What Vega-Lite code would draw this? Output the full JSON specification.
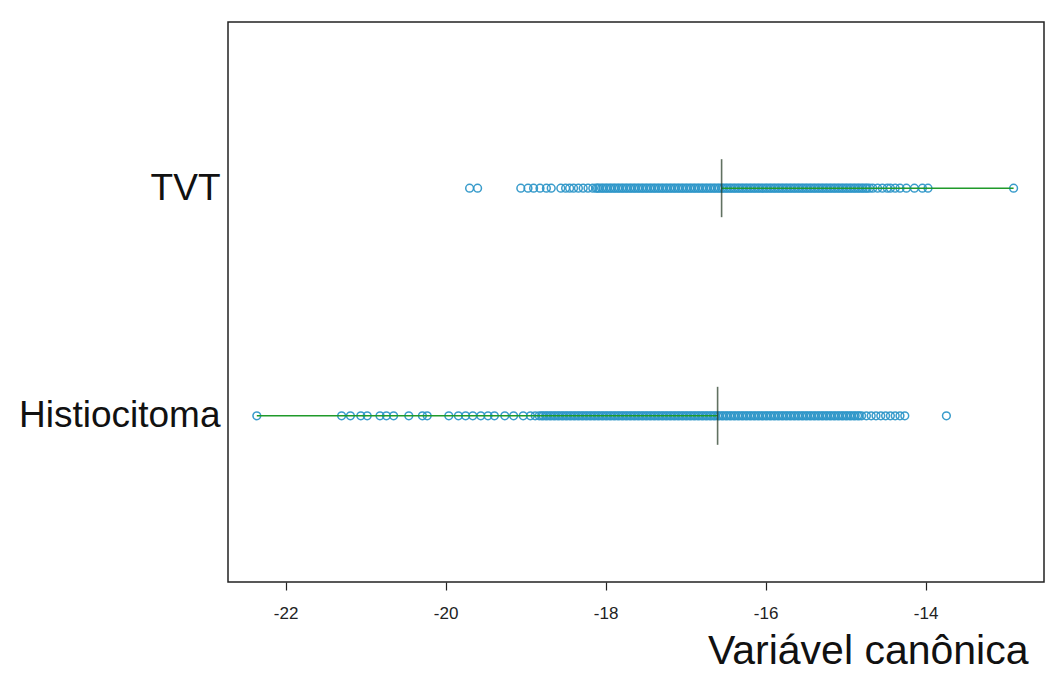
{
  "$schema": "https://vega.github.io/schema/vega-lite/v6.json",
  "width": 816,
  "height": 560,
  "autosize": {"type": "none"},
  "padding": {"left": 228, "top": 22, "right": 10, "bottom": 92},
  "background": "white",
  "config": {
    "view": {"stroke": "#222222", "strokeWidth": 1.5},
    "font": "Liberation Sans"
  },
  "datasets": {
    "rng": [
      {"g": "TVT", "lo": -16.55, "hi": -12.9, "mean": -16.55},
      {"g": "Histiocitoma", "lo": -22.36, "hi": -16.6, "mean": -16.6}
    ],
    "pts": [
      {"g":"TVT","v":-19.70},{"g":"TVT","v":-19.60},{"g":"TVT","v":-19.06},{"g":"TVT","v":-18.97},{"g":"TVT","v":-18.90},{"g":"TVT","v":-18.82},{"g":"TVT","v":-18.74},{"g":"TVT","v":-18.68},{"g":"TVT","v":-18.56},{"g":"TVT","v":-18.50},{"g":"TVT","v":-18.45},{"g":"TVT","v":-18.40},{"g":"TVT","v":-18.34},{"g":"TVT","v":-18.28},{"g":"TVT","v":-18.22},{"g":"TVT","v":-18.16},{"g":"TVT","v":-18.12},
      {"g":"TVT","v":-18.10},{"g":"TVT","v":-18.08},{"g":"TVT","v":-18.05},{"g":"TVT","v":-18.03},{"g":"TVT","v":-18.00},{"g":"TVT","v":-17.98},{"g":"TVT","v":-17.95},{"g":"TVT","v":-17.93},{"g":"TVT","v":-17.90},{"g":"TVT","v":-17.88},{"g":"TVT","v":-17.85},{"g":"TVT","v":-17.83},{"g":"TVT","v":-17.80},{"g":"TVT","v":-17.78},{"g":"TVT","v":-17.75},{"g":"TVT","v":-17.73},{"g":"TVT","v":-17.70},{"g":"TVT","v":-17.68},{"g":"TVT","v":-17.65},{"g":"TVT","v":-17.63},{"g":"TVT","v":-17.60},{"g":"TVT","v":-17.58},{"g":"TVT","v":-17.55},{"g":"TVT","v":-17.53},{"g":"TVT","v":-17.50},{"g":"TVT","v":-17.48},{"g":"TVT","v":-17.45},{"g":"TVT","v":-17.43},{"g":"TVT","v":-17.40},{"g":"TVT","v":-17.38},{"g":"TVT","v":-17.35},{"g":"TVT","v":-17.33},{"g":"TVT","v":-17.30},{"g":"TVT","v":-17.28},{"g":"TVT","v":-17.25},{"g":"TVT","v":-17.23},{"g":"TVT","v":-17.20},{"g":"TVT","v":-17.18},{"g":"TVT","v":-17.15},{"g":"TVT","v":-17.13},{"g":"TVT","v":-17.10},{"g":"TVT","v":-17.08},{"g":"TVT","v":-17.05},{"g":"TVT","v":-17.03},{"g":"TVT","v":-17.00},{"g":"TVT","v":-16.98},{"g":"TVT","v":-16.95},{"g":"TVT","v":-16.93},{"g":"TVT","v":-16.90},{"g":"TVT","v":-16.88},{"g":"TVT","v":-16.85},{"g":"TVT","v":-16.83},{"g":"TVT","v":-16.80},{"g":"TVT","v":-16.78},{"g":"TVT","v":-16.75},{"g":"TVT","v":-16.73},{"g":"TVT","v":-16.70},{"g":"TVT","v":-16.68},{"g":"TVT","v":-16.65},{"g":"TVT","v":-16.63},{"g":"TVT","v":-16.60},{"g":"TVT","v":-16.58},{"g":"TVT","v":-16.55},{"g":"TVT","v":-16.53},{"g":"TVT","v":-16.50},{"g":"TVT","v":-16.48},{"g":"TVT","v":-16.45},{"g":"TVT","v":-16.43},{"g":"TVT","v":-16.40},{"g":"TVT","v":-16.38},{"g":"TVT","v":-16.35},{"g":"TVT","v":-16.33},{"g":"TVT","v":-16.30},{"g":"TVT","v":-16.28},{"g":"TVT","v":-16.25},{"g":"TVT","v":-16.23},{"g":"TVT","v":-16.20},{"g":"TVT","v":-16.18},{"g":"TVT","v":-16.15},{"g":"TVT","v":-16.13},{"g":"TVT","v":-16.10},{"g":"TVT","v":-16.08},{"g":"TVT","v":-16.05},{"g":"TVT","v":-16.03},{"g":"TVT","v":-16.00},{"g":"TVT","v":-15.98},{"g":"TVT","v":-15.95},{"g":"TVT","v":-15.93},{"g":"TVT","v":-15.90},{"g":"TVT","v":-15.88},{"g":"TVT","v":-15.85},{"g":"TVT","v":-15.83},{"g":"TVT","v":-15.80},{"g":"TVT","v":-15.78},{"g":"TVT","v":-15.75},{"g":"TVT","v":-15.73},{"g":"TVT","v":-15.70},{"g":"TVT","v":-15.68},{"g":"TVT","v":-15.65},{"g":"TVT","v":-15.63},{"g":"TVT","v":-15.60},{"g":"TVT","v":-15.58},{"g":"TVT","v":-15.55},{"g":"TVT","v":-15.53},{"g":"TVT","v":-15.50},{"g":"TVT","v":-15.48},{"g":"TVT","v":-15.45},{"g":"TVT","v":-15.43},{"g":"TVT","v":-15.40},{"g":"TVT","v":-15.38},{"g":"TVT","v":-15.35},{"g":"TVT","v":-15.33},{"g":"TVT","v":-15.30},{"g":"TVT","v":-15.28},{"g":"TVT","v":-15.25},{"g":"TVT","v":-15.23},{"g":"TVT","v":-15.20},{"g":"TVT","v":-15.18},{"g":"TVT","v":-15.15},{"g":"TVT","v":-15.13},{"g":"TVT","v":-15.10},{"g":"TVT","v":-15.08},{"g":"TVT","v":-15.05},{"g":"TVT","v":-15.03},{"g":"TVT","v":-15.00},{"g":"TVT","v":-14.98},{"g":"TVT","v":-14.95},{"g":"TVT","v":-14.93},{"g":"TVT","v":-14.90},{"g":"TVT","v":-14.88},{"g":"TVT","v":-14.85},{"g":"TVT","v":-14.83},{"g":"TVT","v":-14.80},{"g":"TVT","v":-14.78},{"g":"TVT","v":-14.75},{"g":"TVT","v":-14.73},{"g":"TVT","v":-14.70},
      {"g":"TVT","v":-14.66},{"g":"TVT","v":-14.60},{"g":"TVT","v":-14.54},{"g":"TVT","v":-14.48},{"g":"TVT","v":-14.44},{"g":"TVT","v":-14.38},{"g":"TVT","v":-14.32},{"g":"TVT","v":-14.24},{"g":"TVT","v":-14.14},{"g":"TVT","v":-14.04},{"g":"TVT","v":-13.97},{"g":"TVT","v":-12.90},
      {"g":"Histiocitoma","v":-22.36},{"g":"Histiocitoma","v":-21.30},{"g":"Histiocitoma","v":-21.19},{"g":"Histiocitoma","v":-21.06},{"g":"Histiocitoma","v":-20.98},{"g":"Histiocitoma","v":-20.82},{"g":"Histiocitoma","v":-20.74},{"g":"Histiocitoma","v":-20.65},{"g":"Histiocitoma","v":-20.46},{"g":"Histiocitoma","v":-20.29},{"g":"Histiocitoma","v":-20.23},{"g":"Histiocitoma","v":-19.96},{"g":"Histiocitoma","v":-19.84},{"g":"Histiocitoma","v":-19.75},{"g":"Histiocitoma","v":-19.66},{"g":"Histiocitoma","v":-19.56},{"g":"Histiocitoma","v":-19.47},{"g":"Histiocitoma","v":-19.39},{"g":"Histiocitoma","v":-19.26},{"g":"Histiocitoma","v":-19.15},{"g":"Histiocitoma","v":-19.03},{"g":"Histiocitoma","v":-18.94},{"g":"Histiocitoma","v":-18.88},
      {"g":"Histiocitoma","v":-18.83},{"g":"Histiocitoma","v":-18.80},{"g":"Histiocitoma","v":-18.78},{"g":"Histiocitoma","v":-18.75},{"g":"Histiocitoma","v":-18.73},{"g":"Histiocitoma","v":-18.70},{"g":"Histiocitoma","v":-18.68},{"g":"Histiocitoma","v":-18.65},{"g":"Histiocitoma","v":-18.63},{"g":"Histiocitoma","v":-18.60},{"g":"Histiocitoma","v":-18.58},{"g":"Histiocitoma","v":-18.55},{"g":"Histiocitoma","v":-18.53},{"g":"Histiocitoma","v":-18.50},{"g":"Histiocitoma","v":-18.48},{"g":"Histiocitoma","v":-18.45},{"g":"Histiocitoma","v":-18.43},{"g":"Histiocitoma","v":-18.40},{"g":"Histiocitoma","v":-18.38},{"g":"Histiocitoma","v":-18.35},{"g":"Histiocitoma","v":-18.33},{"g":"Histiocitoma","v":-18.30},{"g":"Histiocitoma","v":-18.28},{"g":"Histiocitoma","v":-18.25},{"g":"Histiocitoma","v":-18.23},{"g":"Histiocitoma","v":-18.20},{"g":"Histiocitoma","v":-18.18},{"g":"Histiocitoma","v":-18.15},{"g":"Histiocitoma","v":-18.13},
      {"g":"Histiocitoma","v":-18.10},{"g":"Histiocitoma","v":-18.08},{"g":"Histiocitoma","v":-18.05},{"g":"Histiocitoma","v":-18.03},{"g":"Histiocitoma","v":-18.00},{"g":"Histiocitoma","v":-17.98},{"g":"Histiocitoma","v":-17.95},{"g":"Histiocitoma","v":-17.93},{"g":"Histiocitoma","v":-17.90},{"g":"Histiocitoma","v":-17.88},{"g":"Histiocitoma","v":-17.85},{"g":"Histiocitoma","v":-17.83},{"g":"Histiocitoma","v":-17.80},{"g":"Histiocitoma","v":-17.78},{"g":"Histiocitoma","v":-17.75},{"g":"Histiocitoma","v":-17.73},{"g":"Histiocitoma","v":-17.70},{"g":"Histiocitoma","v":-17.68},{"g":"Histiocitoma","v":-17.65},{"g":"Histiocitoma","v":-17.63},{"g":"Histiocitoma","v":-17.60},{"g":"Histiocitoma","v":-17.58},{"g":"Histiocitoma","v":-17.55},{"g":"Histiocitoma","v":-17.53},{"g":"Histiocitoma","v":-17.50},{"g":"Histiocitoma","v":-17.48},{"g":"Histiocitoma","v":-17.45},{"g":"Histiocitoma","v":-17.43},{"g":"Histiocitoma","v":-17.40},{"g":"Histiocitoma","v":-17.38},{"g":"Histiocitoma","v":-17.35},{"g":"Histiocitoma","v":-17.33},{"g":"Histiocitoma","v":-17.30},{"g":"Histiocitoma","v":-17.28},{"g":"Histiocitoma","v":-17.25},{"g":"Histiocitoma","v":-17.23},{"g":"Histiocitoma","v":-17.20},{"g":"Histiocitoma","v":-17.18},{"g":"Histiocitoma","v":-17.15},{"g":"Histiocitoma","v":-17.13},{"g":"Histiocitoma","v":-17.10},{"g":"Histiocitoma","v":-17.08},{"g":"Histiocitoma","v":-17.05},{"g":"Histiocitoma","v":-17.03},{"g":"Histiocitoma","v":-17.00},{"g":"Histiocitoma","v":-16.98},{"g":"Histiocitoma","v":-16.95},{"g":"Histiocitoma","v":-16.93},{"g":"Histiocitoma","v":-16.90},{"g":"Histiocitoma","v":-16.88},{"g":"Histiocitoma","v":-16.85},{"g":"Histiocitoma","v":-16.83},{"g":"Histiocitoma","v":-16.80},{"g":"Histiocitoma","v":-16.78},{"g":"Histiocitoma","v":-16.75},{"g":"Histiocitoma","v":-16.73},{"g":"Histiocitoma","v":-16.70},{"g":"Histiocitoma","v":-16.68},{"g":"Histiocitoma","v":-16.65},{"g":"Histiocitoma","v":-16.63},{"g":"Histiocitoma","v":-16.60},{"g":"Histiocitoma","v":-16.58},{"g":"Histiocitoma","v":-16.55},{"g":"Histiocitoma","v":-16.53},{"g":"Histiocitoma","v":-16.50},{"g":"Histiocitoma","v":-16.48},{"g":"Histiocitoma","v":-16.45},{"g":"Histiocitoma","v":-16.43},{"g":"Histiocitoma","v":-16.40},{"g":"Histiocitoma","v":-16.38},{"g":"Histiocitoma","v":-16.35},{"g":"Histiocitoma","v":-16.33},{"g":"Histiocitoma","v":-16.30},{"g":"Histiocitoma","v":-16.28},{"g":"Histiocitoma","v":-16.25},{"g":"Histiocitoma","v":-16.23},{"g":"Histiocitoma","v":-16.20},{"g":"Histiocitoma","v":-16.18},{"g":"Histiocitoma","v":-16.15},{"g":"Histiocitoma","v":-16.13},{"g":"Histiocitoma","v":-16.10},{"g":"Histiocitoma","v":-16.08},{"g":"Histiocitoma","v":-16.05},{"g":"Histiocitoma","v":-16.03},{"g":"Histiocitoma","v":-16.00},{"g":"Histiocitoma","v":-15.98},{"g":"Histiocitoma","v":-15.95},{"g":"Histiocitoma","v":-15.93},{"g":"Histiocitoma","v":-15.90},{"g":"Histiocitoma","v":-15.88},{"g":"Histiocitoma","v":-15.85},{"g":"Histiocitoma","v":-15.83},{"g":"Histiocitoma","v":-15.80},{"g":"Histiocitoma","v":-15.78},{"g":"Histiocitoma","v":-15.75},{"g":"Histiocitoma","v":-15.73},{"g":"Histiocitoma","v":-15.70},{"g":"Histiocitoma","v":-15.68},{"g":"Histiocitoma","v":-15.65},{"g":"Histiocitoma","v":-15.63},{"g":"Histiocitoma","v":-15.60},{"g":"Histiocitoma","v":-15.58},{"g":"Histiocitoma","v":-15.55},{"g":"Histiocitoma","v":-15.53},{"g":"Histiocitoma","v":-15.50},{"g":"Histiocitoma","v":-15.48},{"g":"Histiocitoma","v":-15.45},{"g":"Histiocitoma","v":-15.43},{"g":"Histiocitoma","v":-15.40},{"g":"Histiocitoma","v":-15.38},{"g":"Histiocitoma","v":-15.35},{"g":"Histiocitoma","v":-15.33},{"g":"Histiocitoma","v":-15.30},{"g":"Histiocitoma","v":-15.28},{"g":"Histiocitoma","v":-15.25},{"g":"Histiocitoma","v":-15.23},{"g":"Histiocitoma","v":-15.20},{"g":"Histiocitoma","v":-15.18},{"g":"Histiocitoma","v":-15.15},{"g":"Histiocitoma","v":-15.13},{"g":"Histiocitoma","v":-15.10},{"g":"Histiocitoma","v":-15.08},{"g":"Histiocitoma","v":-15.05},{"g":"Histiocitoma","v":-15.03},{"g":"Histiocitoma","v":-15.00},{"g":"Histiocitoma","v":-14.98},{"g":"Histiocitoma","v":-14.95},{"g":"Histiocitoma","v":-14.93},{"g":"Histiocitoma","v":-14.90},{"g":"Histiocitoma","v":-14.88},{"g":"Histiocitoma","v":-14.85},{"g":"Histiocitoma","v":-14.83},{"g":"Histiocitoma","v":-14.80},
      {"g":"Histiocitoma","v":-14.74},{"g":"Histiocitoma","v":-14.68},{"g":"Histiocitoma","v":-14.62},{"g":"Histiocitoma","v":-14.56},{"g":"Histiocitoma","v":-14.50},{"g":"Histiocitoma","v":-14.44},{"g":"Histiocitoma","v":-14.38},{"g":"Histiocitoma","v":-14.32},{"g":"Histiocitoma","v":-14.26},{"g":"Histiocitoma","v":-13.74}
    ]
  },
  "layer": [
    {
      "data": {"name": "pts"},
      "mark": {"type": "point", "shape": "circle", "filled": false, "size": 60, "strokeWidth": 1.5, "color": "#2f97c9", "opacity": 0.95},
      "encoding": {
        "x": {
          "field": "v", "type": "quantitative",
          "scale": {"domain": [-22.72, -12.52], "nice": false, "zero": false},
          "axis": {
            "values": [-22, -20, -18, -16, -14],
            "labelExpr": "'' + datum.value",
            "title": "Variável canônica",
            "titleFontSize": 41,
            "titleFontWeight": "normal",
            "titleColor": "#111111",
            "titleAnchor": "end",
            "titleX": 800,
            "titleAlign": "right",
            "titlePadding": 10,
            "labelFontSize": 17,
            "labelColor": "#222222",
            "labelPadding": 15,
            "tickSize": 8,
            "tickColor": "#222222",
            "tickWidth": 1.2,
            "domain": false,
            "grid": false
          }
        },
        "y": {
          "field": "g", "type": "nominal",
          "sort": ["TVT", "Histiocitoma"],
          "scale": {"type": "point", "padding": 0.73},
          "axis": {
            "title": null,
            "labelFontSize": 37,
            "labelColor": "#111111",
            "labelLimit": 0,
            "ticks": false,
            "domain": false,
            "grid": false,
            "labelPadding": 8
          }
        }
      }
    },
    {
      "data": {"name": "rng"},
      "mark": {"type": "rule", "color": "#1f9a2a", "strokeWidth": 1.6},
      "encoding": {
        "x": {"field": "lo", "type": "quantitative"},
        "x2": {"field": "hi"},
        "y": {"field": "g", "type": "nominal", "sort": ["TVT", "Histiocitoma"], "scale": {"type": "point", "padding": 0.73}}
      }
    },
    {
      "data": {"name": "rng"},
      "mark": {"type": "tick", "orient": "vertical", "size": 58, "thickness": 1.6, "color": "#1e351e"},
      "encoding": {
        "x": {"field": "mean", "type": "quantitative"},
        "y": {"field": "g", "type": "nominal", "sort": ["TVT", "Histiocitoma"], "scale": {"type": "point", "padding": 0.73}}
      }
    }
  ]
}
